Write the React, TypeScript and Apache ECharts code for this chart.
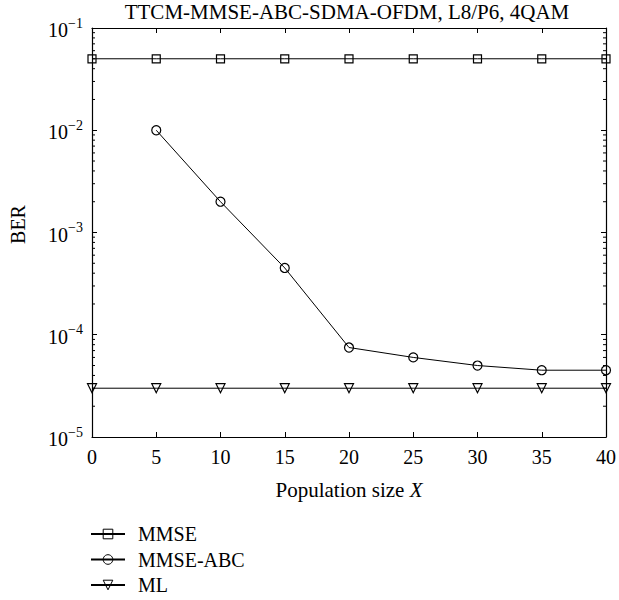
import React, { useEffect, useRef } from "react";
import * as echarts from "echarts";

const populationSizes = [0, 5, 10, 15, 20, 25, 30, 35, 40];
const mmseBer = [0.05, 0.05, 0.05, 0.05, 0.05, 0.05, 0.05, 0.05, 0.05];
const abcPopulationSizes = [5, 10, 15, 20, 25, 30, 35, 40];
const mmseAbcBer = [1e-2, 2e-3, 4.5e-4, 7.5e-5, 6e-5, 5e-5, 4.5e-5, 4.5e-5];
const mlBer = [3e-5, 3e-5, 3e-5, 3e-5, 3e-5, 3e-5, 3e-5, 3e-5, 3e-5];
const seriesNames = ["MMSE", "MMSE-ABC", "ML"];
const titleText = "TTCM-MMSE-ABC-SDMA-OFDM, L8/P6, 4QAM";
const decadeExponents = [-5, -4, -3, -2];
const minorMultipliers = [2, 3, 4, 5, 6, 7, 8, 9];

const FONT = "'Liberation Serif', 'DejaVu Serif', serif";

export default function App() {
  const ref = useRef<HTMLDivElement>(null);
  useEffect(() => {
    document.body.style.margin = "0";
    if (!ref.current) return;
    const chart = echarts.init(ref.current, null, { renderer: "svg" });
    const minorTickValues: number[][] = [];
    decadeExponents.forEach((e) =>
      minorMultipliers.forEach((m) => minorTickValues.push([0, m * Math.pow(10, e)]))
    );
    const pair = (xs: number[], ys: number[]) => xs.map((x, i) => [x, ys[i]]);
    const lineStyle = { color: "#000", width: 1 };
    const itemStyle = { color: "rgba(0,0,0,0)", borderColor: "#000", borderWidth: 1.2 };
    const yLabel = (v: number) => {
      const e = Math.round(Math.log10(v));
      return `{b|10}{s|−${-e}}`;
    };
    const axisLine = { show: true, onZero: false, lineStyle: { color: "#000", width: 1.2 } };
    chart.setOption({
      animation: false,
      backgroundColor: "#fff",
      textStyle: { fontFamily: FONT, color: "#000" },
      graphic: [
        {
          type: "text",
          x: 347,
          y: 12,
          style: {
            text: titleText,
            textAlign: "center",
            textVerticalAlign: "middle",
            fontFamily: FONT,
            fontSize: 21,
            fill: "#000",
          },
        },
      ],
      grid: { left: 90, right: 11.5, top: 28, bottom: 163 },
      legend: {
        data: seriesNames,
        orient: "vertical",
        left: 90,
        top: 524,
        padding: 0,
        itemWidth: 34,
        itemHeight: 12,
        itemGap: 5.5,
        itemStyle: { color: "rgba(0,0,0,0)", borderColor: "#000", borderWidth: 1 },
        textStyle: { fontFamily: FONT, fontSize: 20, color: "#000", lineHeight: 20, padding: [0, 0, 0, 8] },
      },
      xAxis: [
        {
          type: "value",
          min: 0,
          max: 40,
          interval: 5,
          name: "Population size {i|X}",
          nameLocation: "middle",
          nameGap: 42,
          nameTextStyle: {
            fontFamily: FONT,
            fontSize: 21,
            color: "#000",
            rich: { i: { fontFamily: FONT, fontSize: 21, fontStyle: "italic", color: "#000" } },
          },
          axisLine,
          axisTick: { inside: true, length: 5, lineStyle: { color: "#000" } },
          axisLabel: { fontFamily: FONT, fontSize: 20, color: "#000", margin: 10 },
          splitLine: { show: false },
        },
        {
          type: "value",
          position: "top",
          min: 0,
          max: 40,
          interval: 5,
          axisLine,
          axisTick: { inside: true, length: 5, lineStyle: { color: "#000" } },
          axisLabel: { show: false },
          splitLine: { show: false },
        },
      ],
      yAxis: [
        {
          type: "log",
          logBase: 10,
          min: 1e-5,
          max: 1e-1,
          name: "BER",
          nameLocation: "middle",
          nameGap: 64,
          nameTextStyle: { fontFamily: FONT, fontSize: 20, color: "#000", padding: [0, 0, 0, 16] },
          axisLine,
          axisTick: { inside: true, length: 5, lineStyle: { color: "#000" } },
          axisLabel: {
            formatter: yLabel,
            margin: 9,
            rich: {
              b: { fontFamily: FONT, fontSize: 20, color: "#000", lineHeight: 24, verticalAlign: "bottom" },
              s: { fontFamily: FONT, fontSize: 14, color: "#000", lineHeight: 13, verticalAlign: "top" },
            },
          },
          splitLine: { show: false },
        },
        {
          type: "log",
          logBase: 10,
          min: 1e-5,
          max: 1e-1,
          position: "right",
          axisLine,
          axisTick: { inside: true, length: 5, lineStyle: { color: "#000" } },
          axisLabel: { show: false },
          splitLine: { show: false },
        },
      ],
      series: [
        {
          name: "minor",
          type: "custom",
          silent: true,
          xAxisIndex: 0,
          yAxisIndex: 0,
          data: minorTickValues,
          encode: { x: 0, y: 1 },
          clip: false,
          renderItem: (params: any, api: any) => {
            const p = api.coord([0, api.value(1)]);
            const cs = params.coordSys;
            const st = { stroke: "#000", lineWidth: 1 };
            return {
              type: "group",
              children: [
                { type: "line", shape: { x1: cs.x, y1: p[1], x2: cs.x + 3, y2: p[1] }, style: st },
                {
                  type: "line",
                  shape: { x1: cs.x + cs.width, y1: p[1], x2: cs.x + cs.width - 3, y2: p[1] },
                  style: st,
                },
              ],
            };
          },
        },
        {
          name: seriesNames[0],
          type: "line",
          data: pair(populationSizes, mmseBer),
          symbol: "rect",
          symbolSize: 8,
          lineStyle,
          itemStyle,
        },
        {
          name: seriesNames[1],
          type: "line",
          data: pair(abcPopulationSizes, mmseAbcBer),
          symbol: "circle",
          symbolSize: 9,
          lineStyle,
          itemStyle,
        },
        {
          name: seriesNames[2],
          type: "line",
          data: pair(populationSizes, mlBer),
          symbol: "triangle",
          symbolRotate: 180,
          symbolSize: 9,
          lineStyle,
          itemStyle,
        },
      ],
    });
    return () => chart.dispose();
  }, []);
  return <div ref={ref} style={{ width: 619, height: 600, position: "absolute", left: 0, top: 0 }} />;
}
